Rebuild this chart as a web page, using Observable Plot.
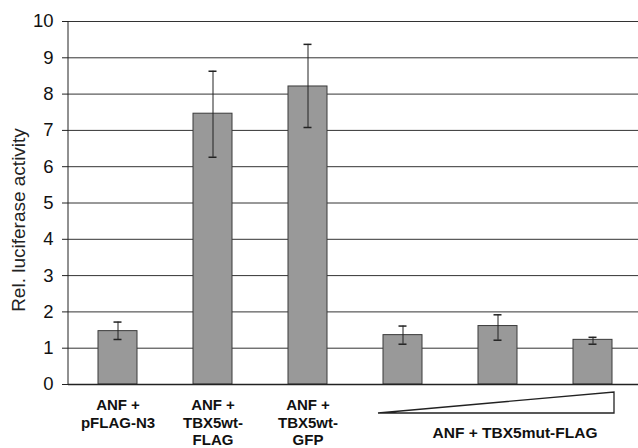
<!DOCTYPE html>
<html>
<head>
<meta charset="utf-8">
<script src="https://cdn.jsdelivr.net/npm/d3@7"></script>
<script src="https://cdn.jsdelivr.net/npm/@observablehq/plot@0.6"></script>
<style>
  html, body { margin: 0; padding: 0; background: #fff; }
  svg { display: block; }
</style>
</head>
<body>
<div id="chart"></div>
<script>
const categories = ["pFLAG-N3", "TBX5wt-FLAG", "TBX5wt-GFP", "mut-1", "mut-2", "mut-3"];
const labels = ["ANF +\npFLAG-N3", "ANF +\nTBX5wt-\nFLAG", "ANF +\nTBX5wt-\nGFP", "", "", ""];
const means = [1.47, 7.46, 8.21, 1.36, 1.61, 1.23];
const errLow = [1.24, 6.26, 7.08, 1.11, 1.22, 1.11];
const errHigh = [1.72, 8.63, 9.37, 1.61, 1.92, 1.30];
const mutCategories = ["mut-1", "mut-2", "mut-3"];
const groupLabel = "ANF + TBX5mut-FLAG";
const yTicks = [0, 1, 2, 3, 4, 5, 6, 7, 8, 9, 10];
const yTitle = "Rel. luciferase activity";

const data = categories.map((c, i) => ({cat: c, label: labels[i], mean: means[i], lo: errLow[i], hi: errHigh[i]}));

const font = "'Liberation Sans', Arial, sans-serif";

// custom mark: left axis line + dose wedge under the mutant bars
function wedgeMark(index, scales, values, dimensions) {
  const ns = "http://www.w3.org/2000/svg";
  const g = document.createElementNS(ns, "g");
  const x = scales.x, y = scales.y;
  const bw = x.bandwidth ? x.bandwidth() : 0;
  const axis = document.createElementNS(ns, "line");
  axis.setAttribute("x1", dimensions.marginLeft);
  axis.setAttribute("x2", dimensions.marginLeft);
  axis.setAttribute("y1", y(10));
  axis.setAttribute("y2", y(0));
  axis.setAttribute("stroke", "#222");
  g.appendChild(axis);
  const xl = x(mutCategories[0]) - 5;
  const xr = x(mutCategories[mutCategories.length - 1]) + bw + 2;
  const yb = y(0) + 29, yt = y(0) + 8;
  const tri = document.createElementNS(ns, "path");
  tri.setAttribute("d", `M${xl},${yb}L${xr},${yt}L${xr},${yb}Z`);
  tri.setAttribute("fill", "#fff");
  tri.setAttribute("stroke", "#222");
  tri.setAttribute("stroke-width", 1.3);
  g.appendChild(tri);
  return g;
}

const chart = Plot.plot({
  width: 638,
  height: 448,
  marginLeft: 68,
  marginRight: 0,
  marginTop: 21,
  marginBottom: 64,
  style: {fontFamily: font, background: "#fff"},
  x: {domain: categories, range: [68, 641], paddingInner: 0.593, paddingOuter: 0.287, axis: null},
  y: {domain: [0, 10], axis: null},
  marks: [
    Plot.ruleY(yTicks, {stroke: "#333", strokeWidth: 1}),
    Plot.axisY({ticks: yTicks, tickSize: 6, tickPadding: 9, fontSize: 18.5, stroke: "#222", fill: "#111", label: null, tickFormat: d => String(d)}),
    Plot.barY(data, {x: "cat", y: "mean", fill: "#999999", stroke: "#3a3a3a", strokeWidth: 1}),
    Plot.ruleX(data, {x: "cat", y1: "lo", y2: "hi", stroke: "#222", strokeWidth: 1}),
    Plot.tickY(data, {x: "cat", y: "lo", stroke: "#222", strokeWidth: 1.5, insetLeft: 15.5, insetRight: 15.5}),
    Plot.tickY(data, {x: "cat", y: "hi", stroke: "#222", strokeWidth: 1.5, insetLeft: 15.5, insetRight: 15.5}),
    Plot.ruleY([0], {stroke: "#222", strokeWidth: 1.5}),
    Plot.text(data, {x: "cat", text: "label", frameAnchor: "bottom", lineAnchor: "top", dy: 13, lineHeight: 1.17, fontSize: 15, fontWeight: "bold", fill: "#111"}),
    Plot.text([groupLabel], {x: () => mutCategories[1], text: d => d, frameAnchor: "bottom", lineAnchor: "top", dy: 42, dx: 17, fontSize: 15.5, fontWeight: "bold", fill: "#111", ariaLabel: "grouplabel"}),
    Plot.text([yTitle], {text: d => d, frameAnchor: "left", textAnchor: "middle", rotate: -90, dx: -50, dy: 17, fontSize: 19, fill: "#222", ariaLabel: "ytitle"}),
    wedgeMark
  ]
});

d3.select(chart).selectAll('g[aria-label="ytitle"] text')
  .attr("textLength", 228).attr("lengthAdjust", "spacingAndGlyphs");
d3.select(chart).selectAll('g[aria-label="grouplabel"] text')
  .attr("textLength", 166).attr("lengthAdjust", "spacing");

document.getElementById("chart").appendChild(chart);
</script>
</body>
</html>
